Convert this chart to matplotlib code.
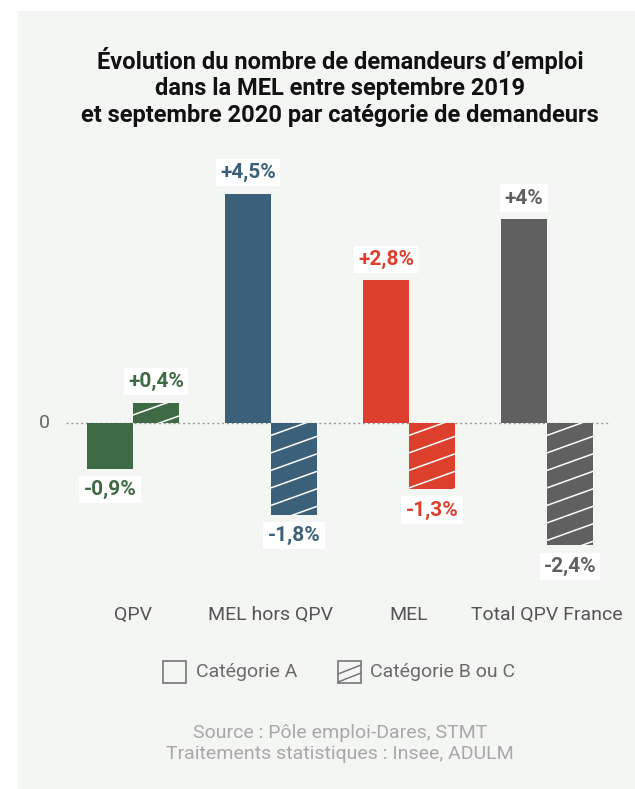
import numpy as np
import matplotlib.pyplot as plt
from matplotlib.patches import Rectangle
from matplotlib.lines import Line2D

plt.rcParams['font.family'] = ['Roboto', 'DejaVu Sans']

# data
groups = ['QPV', 'MEL hors QPV', 'MEL', 'Total QPV France']
cat_a = [-0.9, 4.5, 2.8, 4.0]
cat_bc = [0.4, -1.8, -1.3, -2.4]
labels_a = ['-0,9%', '+4,5%', '+2,8%', '+4%']
labels_bc = ['+0,4%', '-1,8%', '-1,3%', '-2,4%']
colors = ['#3f6a46', '#3b617a', '#dc402d', '#606060']

W, H = 635, 789
fig = plt.figure(figsize=(W / 100, H / 100), dpi=100)
fig.patch.set_facecolor('white')
# light panel
fig.add_artist(Rectangle((18 / W, 0), 1 - 18 / W, 1 - 11 / H, transform=fig.transFigure,
                         facecolor='#f4f6f3', edgecolor='none', zorder=0))

# axes placed in pixels: x from 66 to 610, y from 150 to 600
ax = fig.add_axes([66 / W, 1 - 600 / H, (610 - 66) / W, (600 - 150) / H])
ax.set_facecolor('none')
px_x = 138.0   # pixels per group
px_y = 51.0    # pixels per percent
ax.set_xlim(-(133 - 66) / px_x, (610 - 133) / px_x)
ax.set_ylim(-(600 - 423) / px_y, (423 - 150) / px_y)
for s in ax.spines.values():
    s.set_visible(False)
ax.set_xticks([])
ax.set_yticks([])

x = np.arange(len(groups))
bw = 46 / px_x
ax.axhline(0, color='#999999', lw=1, ls=(0, (1.5, 2)), zorder=1)

bars_a = ax.bar(x - bw / 2, cat_a, bw, color=colors, zorder=2)
bars_b = ax.bar(x + bw / 2, cat_bc, bw, color=colors, zorder=2)

# shallow white hatch lines on category B/C bars
step = 17.5 / px_y
for b in bars_b:
    x0, x1 = b.get_x(), b.get_x() + b.get_width()
    y0, y1 = min(b.get_y(), b.get_y() + b.get_height()), max(b.get_y(), b.get_y() + b.get_height())
    for c in np.arange(y1 + 0.1, y0 - 1, -step):
        ln, = ax.plot([x0, x1], [c, c + (x1 - x0) * px_x / px_y * 0.36],
                      color='white', lw=1.1, zorder=3)
        ln.set_clip_path(b)

def put_label(bar, txt, col):
    h = bar.get_height()
    xc = bar.get_x() + bar.get_width() / 2
    off = 15 if h >= 0 else -15
    ax.annotate(txt, (xc, h), xytext=(0, off), textcoords='offset points',
                ha='center', va='center', fontsize=15, fontweight='bold', color=col,
                bbox=dict(boxstyle='square,pad=0.2', fc='white', ec='none'), zorder=5)

for i in range(len(groups)):
    put_label(bars_a[i], labels_a[i], colors[i])
    put_label(bars_b[i], labels_bc[i], colors[i])

ax.text(-(133 - 44) / px_x, 0, '0', ha='center', va='center', fontsize=14, color='#666666')

for i, g in enumerate(groups):
    ax.text(x[i], -(615 - 423) / px_y, g, ha='center', va='center', fontsize=14,
            color='#555555', clip_on=False)

# title
fig.text(340 / W, 1 - 87 / H,
         "Évolution du nombre de demandeurs d’emploi\ndans la MEL entre septembre 2019\net septembre 2020 par catégorie de demandeurs",
         ha='center', va='center', fontsize=17, fontweight='bold', color='#111111',
         linespacing=1.22)

# legend drawn by hand
lg_y = 672
def legend_box(xl, hatched):
    fig.add_artist(Rectangle((xl / W, 1 - (lg_y + 11) / H), 23 / W, 22 / H,
                             transform=fig.transFigure, fc='none', ec='#777777', lw=1.2))
    if hatched:
        for yy in (lg_y + 5, lg_y - 3):
            fig.add_artist(Line2D([xl / W, (xl + 23) / W], [1 - (yy + 5) / H, 1 - (yy - 4) / H],
                                  transform=fig.transFigure, color='#777777', lw=1.1))

legend_box(163, False)
fig.text(196 / W, 1 - lg_y / H, 'Catégorie A', ha='left', va='center', fontsize=14, color='#6b6b6b')
legend_box(338, True)
fig.text(370 / W, 1 - lg_y / H, 'Catégorie B ou C', ha='left', va='center', fontsize=14, color='#6b6b6b')

fig.text(340 / W, 1 - 733 / H, 'Source : Pôle emploi-Dares, STMT',
         ha='center', va='center', fontsize=14, color='#a8a8a8')
fig.text(340 / W, 1 - 754 / H, 'Traitements statistiques : Insee, ADULM',
         ha='center', va='center', fontsize=14, color='#a8a8a8')

fig.savefig('out.png', dpi=100)
